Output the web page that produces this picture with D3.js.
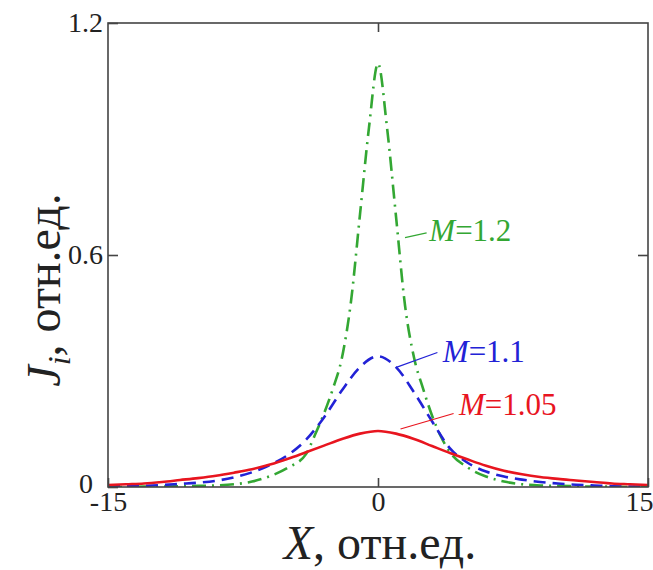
<!DOCTYPE html>
<html>
<head>
<meta charset="utf-8">
<script src="https://cdn.jsdelivr.net/npm/d3@7"></script>
<style>
  body { margin: 0; background: #fff; }
  svg { display: block; }
  svg text { font-family: "Liberation Serif", "Times New Roman", Times, "DejaVu Serif", serif !important; }
</style>
</head>
<body>
<svg id="chart" width="653" height="570"></svg>
<script>
// values
const xM105 = [-15, -14, -13, -12, -11, -10, -9, -8, -7, -6, -5, -4, -3, -2, -1, 0, 1, 2, 3, 4, 5, 6, 7, 8, 9, 10, 11, 12, 13, 14, 15];
const yM105 = [0.005, 0.007, 0.009, 0.013, 0.018, 0.023, 0.029, 0.037, 0.046, 0.058, 0.073, 0.090, 0.107, 0.124, 0.138, 0.145,
               0.138, 0.124, 0.106, 0.088, 0.071, 0.055, 0.042, 0.033, 0.026, 0.021, 0.017, 0.013, 0.009, 0.007, 0.005];

const xM11 = [-15, -14, -13, -12, -11, -10, -9, -8, -7, -6, -5, -4, -3, -2, -1, 0, 1, 2, 3, 4, 5, 6, 7, 8, 9, 10, 11, 12, 13, 14, 15];
const yM11 = [0.001, 0.002, 0.003, 0.005, 0.008, 0.011, 0.016, 0.025, 0.038, 0.057, 0.083, 0.122, 0.180, 0.250, 0.310, 0.338,
              0.310, 0.245, 0.170, 0.100, 0.062, 0.040, 0.027, 0.019, 0.013, 0.009, 0.006, 0.004, 0.002, 0.001, 0.001];

const xM12 = [-15, -14, -13, -12, -11, -10, -9, -8, -7, -6, -5, -4, -3.5, -3, -2.5, -2, -1.5, -1, -0.5, 0,
              0.5, 1, 1.5, 2, 2.5, 3, 3.5, 4, 5, 6, 7, 8, 9, 10, 11, 12, 13, 14, 15];
const yM12 = [0, 0, 0.001, 0.001, 0.002, 0.003, 0.004, 0.007, 0.014, 0.028, 0.050, 0.085, 0.135, 0.190, 0.255, 0.335, 0.480, 0.705, 0.930, 1.095,
              0.930, 0.700, 0.470, 0.335, 0.255, 0.185, 0.130, 0.090, 0.050, 0.027, 0.014, 0.007, 0.004, 0.003, 0.002, 0.001, 0.001, 0, 0];

const series = [
  { name: "1.2", xs: xM12, ys: yM12, color: "#33a733", dash: "14,6,2,6" },
  { name: "1.1", xs: xM11, ys: yM11, color: "#2222d6", dash: "12,7" },
  { name: "1.05", xs: xM105, ys: yM105, color: "#e8151f", dash: null }
];

const xTicks = [-15, 0, 15];
const yTicks = [0, 0.6, 1.2];

const svg = d3.select("#chart");
const mLeft = 108, mRight = 648, mTop = 23, mBottom = 487;

const x = d3.scaleLinear().domain([-15, 15]).range([mLeft, mRight]);
const y = d3.scaleLinear().domain([0, 1.2]).range([mBottom, mTop]);

svg.append("defs").append("clipPath").attr("id", "plot")
  .append("rect").attr("x", mLeft).attr("y", mTop)
  .attr("width", mRight - mLeft).attr("height", mBottom - mTop);

// curves
const line = d3.line()
  .x(d => x(d[0]))
  .y(d => y(d[1]))
  .curve(d3.curveMonotoneX);

series.forEach(s => {
  const pts = s.xs.map((v, i) => [v, s.ys[i]]);
  const p = svg.append("path")
    .attr("clip-path", "url(#plot)")
    .attr("d", line(pts))
    .attr("fill", "none")
    .attr("stroke", s.color)
    .attr("stroke-width", 2.6);
  if (s.dash) p.attr("stroke-dasharray", s.dash);
});

// frame
svg.append("rect")
  .attr("x", mLeft).attr("y", mTop)
  .attr("width", mRight - mLeft).attr("height", mBottom - mTop)
  .attr("fill", "none").attr("stroke", "#444").attr("stroke-width", 1.6);

// axes
const fmt = d => String(d);
const xAxis = svg.append("g")
  .attr("transform", `translate(0,${mBottom})`)
  .call(d3.axisBottom(x).tickValues(xTicks).tickFormat(fmt).tickSizeInner(-9).tickSizeOuter(0).tickPadding(4));
const yAxis = svg.append("g")
  .attr("transform", `translate(${mLeft},0)`)
  .call(d3.axisLeft(y).tickValues(yTicks).tickFormat(fmt).tickSizeInner(-10).tickSizeOuter(0).tickPadding(5));
svg.append("g")
  .attr("transform", `translate(${mRight},0)`)
  .call(d3.axisRight(y).tickValues([0.6]).tickFormat("").tickSizeInner(-10).tickSizeOuter(0));
svg.append("g")
  .attr("transform", `translate(0,${mTop})`)
  .call(d3.axisTop(x).tickValues([0]).tickFormat("").tickSizeInner(-9).tickSizeOuter(0));

svg.selectAll(".domain").remove();
svg.selectAll(".tick line").attr("stroke", "#444").attr("stroke-width", 1.6);
svg.selectAll(".tick text")
  .attr("font-size", 28)
  .attr("fill", "#222");
xAxis.selectAll(".tick text").filter(d => d === 15).attr("text-anchor", "end").attr("dx", 5);
yAxis.selectAll(".tick text").filter(d => d === 0).attr("dx", -10).attr("dy", "0.2em");

// axis titles
const xt = svg.append("text")
  .attr("x", 380).attr("y", 559)
  .attr("text-anchor", "middle")
  .attr("font-size", 48).attr("fill", "#222");
xt.append("tspan").attr("font-style", "italic").text("X");
xt.append("tspan").text(", отн.ед.");

const yt = svg.append("text")
  .attr("transform", "translate(60,290) rotate(-90)")
  .attr("text-anchor", "middle")
  .attr("font-size", 48).attr("fill", "#222");
yt.append("tspan").attr("font-style", "italic").text("J");
yt.append("tspan").attr("font-style", "italic").attr("font-size", 32).attr("dy", 10).text("i");
yt.append("tspan").attr("dy", -10).text(", отн.ед.");

// curve labels with leader lines
const labels = [
  { s: series[0], lx1: 1.5, ly1: 0.645, lx2: 2.7, ly2: 0.657, px: 2.85, py: 0.635 },
  { s: series[1], lx1: 1.05, ly1: 0.31, lx2: 3.3, ly2: 0.348, px: 3.6, py: 0.322 },
  { s: series[2], lx1: 1.25, ly1: 0.15, lx2: 4.2, ly2: 0.19, px: 4.5, py: 0.186 }
];
labels.forEach(l => {
  svg.append("line")
    .attr("x1", x(l.lx1)).attr("y1", y(l.ly1))
    .attr("x2", x(l.lx2)).attr("y2", y(l.ly2))
    .attr("stroke", l.s.color).attr("stroke-width", 1.2);
  const t = svg.append("text")
    .attr("x", x(l.px)).attr("y", y(l.py))
    .attr("font-size", 31).attr("fill", l.s.color);
  t.append("tspan").attr("font-style", "italic").text("M");
  t.append("tspan").text("=" + l.s.name);
});
</script>
</body>
</html>
